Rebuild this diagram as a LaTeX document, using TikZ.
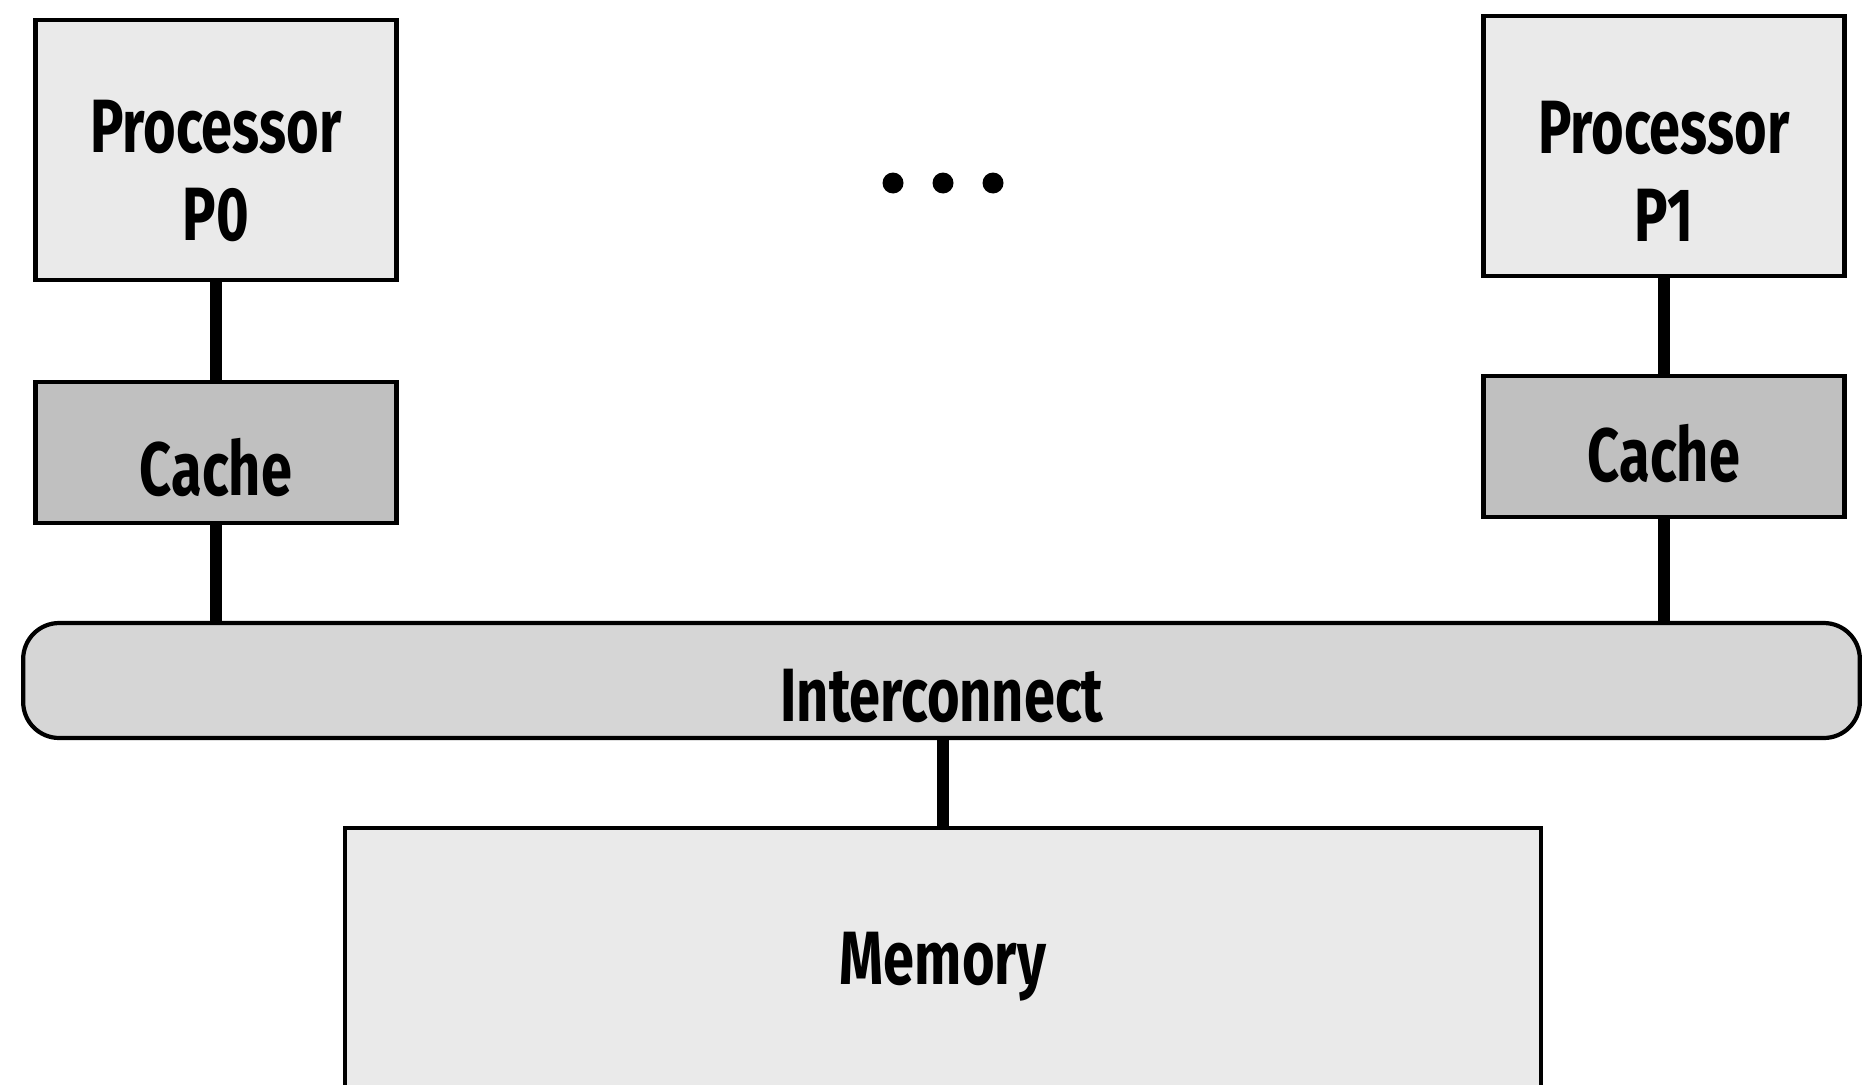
\documentclass[tikz,border=0pt]{standalone}
\usepackage{fontspec}
\setmainfont{Fira Sans}[FakeStretch=0.74]
\usetikzlibrary{positioning}
\definecolor{procgray}{HTML}{EAEAEA}
\definecolor{cachegray}{HTML}{C0C0C0}
\definecolor{busgray}{HTML}{D6D6D6}
\definecolor{memgray}{HTML}{EAEAEA}
\tikzstyle{unit}=[draw=black, line width=2.4pt, inner sep=0pt]
\tikzstyle{procbox}=[unit, fill=procgray, minimum width=7.22cm, minimum height=5.2cm]
\tikzstyle{cachebox}=[unit, fill=cachegray, minimum width=7.22cm, minimum height=2.82cm]
\tikzstyle{busbox}=[unit, fill=busgray, rounded corners=0.72cm, minimum width=36.74cm, minimum height=2.3cm]
\tikzstyle{membox}=[unit, fill=memgray, minimum width=23.92cm, minimum height=5.44cm]
\tikzstyle{lbl}=[font=\fontsize{43}{50}\selectfont\bfseries, align=center, inner sep=0pt]
\tikzstyle{wire}=[line width=6.5pt]
\tikzstyle{dot}=[circle, fill=black, inner sep=0pt, minimum size=0.42cm]

\begin{document}
\begin{tikzpicture}[x=0.02cm, y=-0.02cm]
\clip (0,0) rectangle (1876,1085);
\node[procbox] (p0) at (216,150){};
\node[cachebox] (c0) at (216,452.5){};
\node[procbox] (p1) at (1664,146){};
\node[cachebox] (c1) at (1664,446.5){};
\node[busbox] (ic) at (941.5,680.5){};
\node[membox] (mem) at (943,964){};
\node[lbl] (p0txt) at (216,171){Processor\\P0};
\node[lbl] (c0txt) at (216,468){Cache};
\node[lbl] (p1txt) at (1664,171){Processor\\P1};
\node[lbl] (c1txt) at (1664,454){Cache};
\node[lbl] (ictxt) at (942,696){Interconnect};
\node[lbl] (memtxt) at (943,967){Memory};
\foreach \i/\x in {0/893,1/943,2/993}
  \node[dot] (dot\i) at (\x,183){};
\draw[wire](p0) -- (c0);
\draw[wire](c0) -- (c0 |- ic.north);
\draw[wire](p1) -- (c1);
\draw[wire](c1) -- (c1 |- ic.north);
\draw[wire](ic.south -| mem.north) -- (mem.north);
\end{tikzpicture}
\end{document}
